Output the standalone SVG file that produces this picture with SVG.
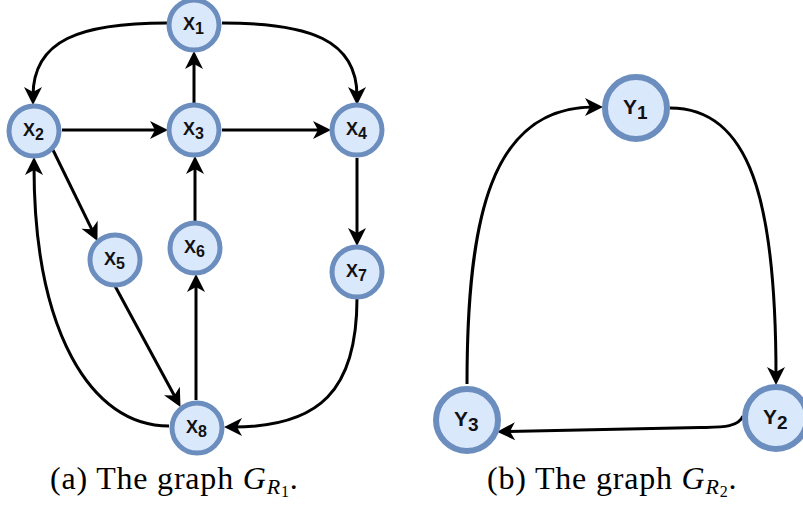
<svg xmlns="http://www.w3.org/2000/svg" width="803" height="505" viewBox="0 0 803 505">
<style>
.n{fill:#dae8fc;stroke:#6c8ebf;stroke-width:5}
.m{fill:#dae8fc;stroke:#6c8ebf;stroke-width:6}
.e{fill:none;stroke:#000;stroke-width:3;marker-end:url(#a)}
.lx{font-family:"Liberation Sans",Arial,sans-serif;font-weight:bold;font-size:18px;fill:#111}
.ly{font-family:"Liberation Sans",Arial,sans-serif;font-weight:bold;font-size:21px;fill:#111}
.cap{font-family:"Liberation Serif","Times New Roman",serif;font-size:32px;letter-spacing:0.8px;fill:#000}
</style>
<defs>
<marker id="a" markerUnits="userSpaceOnUse" markerWidth="20" markerHeight="20" refX="9" refY="9" orient="auto" overflow="visible">
<path d="M0,0 L18,9 L0,18 L5,9 z" fill="#000"/>
</marker>
</defs>
<rect width="803" height="505" fill="#fff"/>
<g id="edges">
<path class="e" d="M167 23 C80 23 33 40 33 96"/>
<path class="e" d="M222 23 C310 23 357 40 357 96"/>
<path class="e" d="M194 103 L194 60"/>
<path class="e" d="M62 130 L159 130"/>
<path class="e" d="M222 130 L322 130"/>
<path class="e" d="M53 150 L93.5 232.8"/>
<path class="e" d="M195 221 L195 165"/>
<path class="e" d="M357 158 L357 237"/>
<path class="e" d="M115 286 L176.2 399"/>
<path class="e" d="M196 400 L196 283"/>
<path class="e" d="M357 298 C357 390 320 427 233 427"/>
<path class="e" d="M169 426 C90 426 34 330 34 166"/>
<path class="e" d="M467 384 C467 220 490 107 594 107"/>
<path class="e" d="M670 108 C750 108 776 200 776 376"/>
<path class="e" d="M743 416 C738 428 720 427 700 427.5 L506 431.5"/>
</g>
<g id="x1"><circle class="n" cx="194" cy="25" r="25"/><text class="lx" x="183" y="30">X<tspan dy="4" font-size="16">1</tspan></text></g>
<g id="x2"><circle class="n" cx="34" cy="131" r="25"/><text class="lx" x="23" y="136">X<tspan dy="4" font-size="16">2</tspan></text></g>
<g id="x3"><circle class="n" cx="194" cy="130" r="25"/><text class="lx" x="183" y="135">X<tspan dy="4" font-size="16">3</tspan></text></g>
<g id="x4"><circle class="n" cx="357" cy="130" r="25"/><text class="lx" x="346" y="135">X<tspan dy="4" font-size="16">4</tspan></text></g>
<g id="x5"><circle class="n" cx="115" cy="260" r="25"/><text class="lx" x="104" y="265">X<tspan dy="4" font-size="16">5</tspan></text></g>
<g id="x6"><circle class="n" cx="195" cy="248" r="25"/><text class="lx" x="184" y="253">X<tspan dy="4" font-size="16">6</tspan></text></g>
<g id="x7"><circle class="n" cx="357" cy="272" r="25"/><text class="lx" x="346" y="277">X<tspan dy="4" font-size="16">7</tspan></text></g>
<g id="x8"><circle class="n" cx="197" cy="428" r="25"/><text class="lx" x="186" y="433">X<tspan dy="4" font-size="16">8</tspan></text></g>
<g id="y1"><circle class="m" cx="636" cy="108" r="31"/><text class="ly" x="623" y="114">Y<tspan dy="5" font-size="19">1</tspan></text></g>
<g id="y2"><circle class="m" cx="776" cy="418" r="31"/><text class="ly" x="763" y="424">Y<tspan dy="5" font-size="19">2</tspan></text></g>
<g id="y3"><circle class="m" cx="467" cy="420" r="31"/><text class="ly" x="454" y="426">Y<tspan dy="5" font-size="19">3</tspan></text></g>
<text class="cap" x="50" y="489">(a) The graph <tspan font-style="italic">G</tspan><tspan font-style="italic" font-size="22" dy="5">R</tspan><tspan font-size="16" dy="3">1</tspan><tspan dy="-8">.</tspan></text>
<text class="cap" x="487" y="489">(b) The graph <tspan font-style="italic">G</tspan><tspan font-style="italic" font-size="22" dy="5">R</tspan><tspan font-size="16" dy="3">2</tspan><tspan dy="-8">.</tspan></text>
</svg>
